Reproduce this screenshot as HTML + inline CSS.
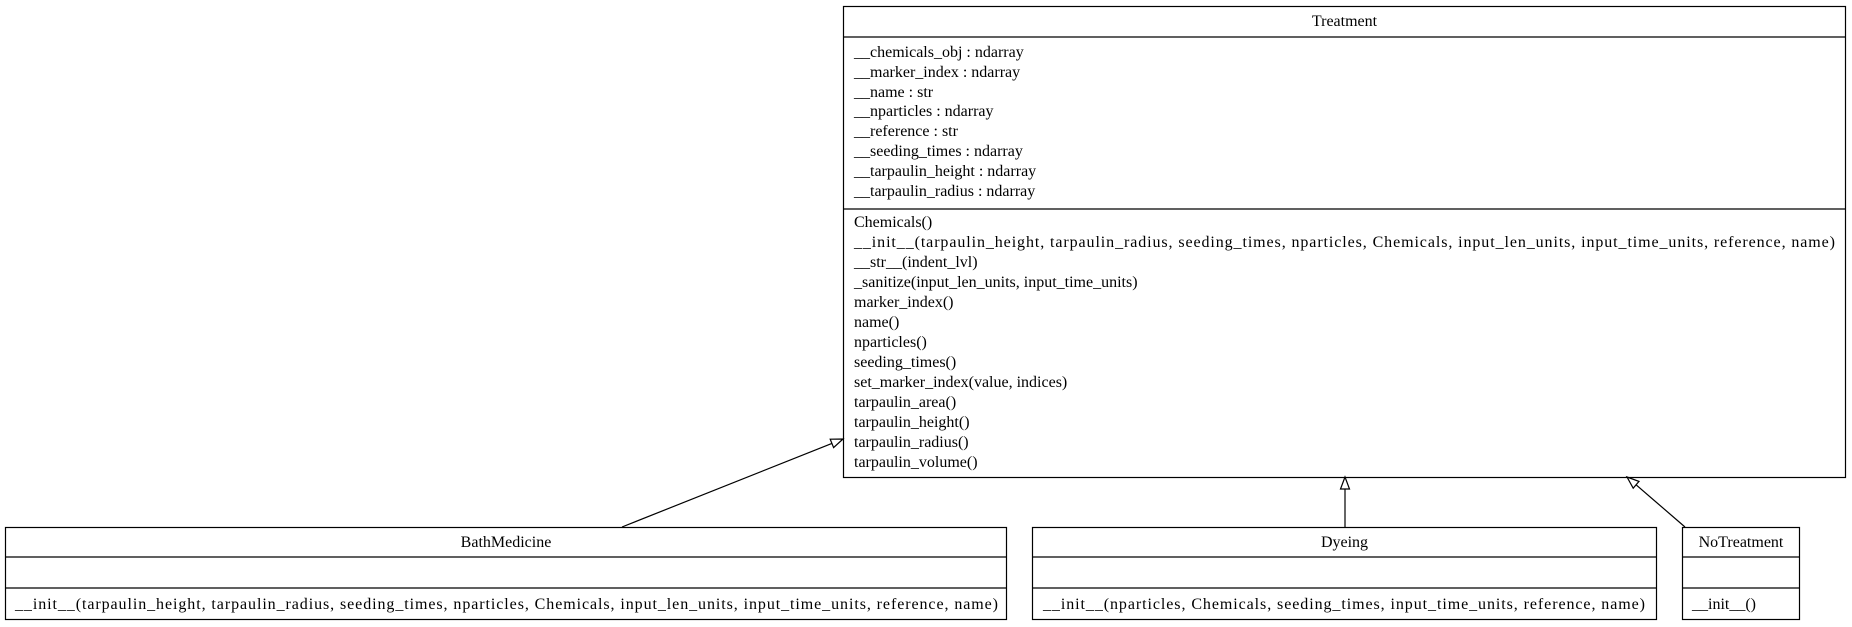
<!DOCTYPE html>
<html><head><meta charset="utf-8"><style>
html,body{margin:0;padding:0;background:#fff;}
svg{display:block;}
text{font-family:"Liberation Serif",serif;font-size:16px;fill:#000;}
</style></head><body>
<svg width="1852" height="627" viewBox="0 0 1852 627" xmlns="http://www.w3.org/2000/svg">
<g fill="none" stroke="#000" stroke-width="1.2">
<rect x="843.5" y="6.5" width="1002" height="471"/>
<line x1="843.5" y1="37" x2="1845.5" y2="37"/>
<line x1="843.5" y1="209" x2="1845.5" y2="209"/>
<rect x="5.5" y="527.5" width="1001" height="92"/>
<line x1="5.5" y1="557" x2="1006.5" y2="557"/>
<line x1="5.5" y1="588" x2="1006.5" y2="588"/>
<rect x="1032.5" y="527.5" width="624" height="92"/>
<line x1="1032.5" y1="557" x2="1656.5" y2="557"/>
<line x1="1032.5" y1="588" x2="1656.5" y2="588"/>
<rect x="1682.5" y="527.5" width="117" height="92"/>
<line x1="1682.5" y1="557" x2="1799.5" y2="557"/>
<line x1="1682.5" y1="588" x2="1799.5" y2="588"/>
<line x1="622" y1="527" x2="831.9" y2="443.4"/>
<polygon points="843,439 833.6,447.6 830.2,439.2"/>
<line x1="1345" y1="527" x2="1345" y2="489"/>
<polygon points="1345,477 1340.5,489 1349.5,489"/>
<line x1="1685" y1="527" x2="1636.1" y2="484.8"/>
<polygon points="1627,477 1639,481.4 1633.2,488.2"/>
</g>
<text x="1344.5" y="26" text-anchor="middle">Treatment</text>
<g>
<text x="854" y="57">__chemicals_obj : ndarray</text>
<text x="854" y="77">__marker_index : ndarray</text>
<text x="854" y="97">__name : str</text>
<text x="854" y="116">__nparticles : ndarray</text>
<text x="854" y="136">__reference : str</text>
<text x="854" y="156">__seeding_times : ndarray</text>
<text x="854" y="176">__tarpaulin_height : ndarray</text>
<text x="854" y="196">__tarpaulin_radius : ndarray</text>
</g>
<g>
<text x="854" y="227">Chemicals()</text>
<text x="854" y="247" textLength="981" lengthAdjust="spacing">__init__(tarpaulin_height, tarpaulin_radius, seeding_times, nparticles, Chemicals, input_len_units, input_time_units, reference, name)</text>
<text x="854" y="267">__str__(indent_lvl)</text>
<text x="854" y="287">_sanitize(input_len_units, input_time_units)</text>
<text x="854" y="307">marker_index()</text>
<text x="854" y="327">name()</text>
<text x="854" y="347">nparticles()</text>
<text x="854" y="367">seeding_times()</text>
<text x="854" y="387">set_marker_index(value, indices)</text>
<text x="854" y="407">tarpaulin_area()</text>
<text x="854" y="427">tarpaulin_height()</text>
<text x="854" y="447">tarpaulin_radius()</text>
<text x="854" y="467">tarpaulin_volume()</text>
</g>
<text x="506" y="547" text-anchor="middle">BathMedicine</text>
<text x="15" y="609" textLength="983" lengthAdjust="spacing">__init__(tarpaulin_height, tarpaulin_radius, seeding_times, nparticles, Chemicals, input_len_units, input_time_units, reference, name)</text>
<text x="1344.5" y="547" text-anchor="middle">Dyeing</text>
<text x="1043" y="609" textLength="602" lengthAdjust="spacing">__init__(nparticles, Chemicals, seeding_times, input_time_units, reference, name)</text>
<text x="1741" y="547" text-anchor="middle">NoTreatment</text>
<text x="1692" y="609">__init__()</text>
</svg>
</body></html>
